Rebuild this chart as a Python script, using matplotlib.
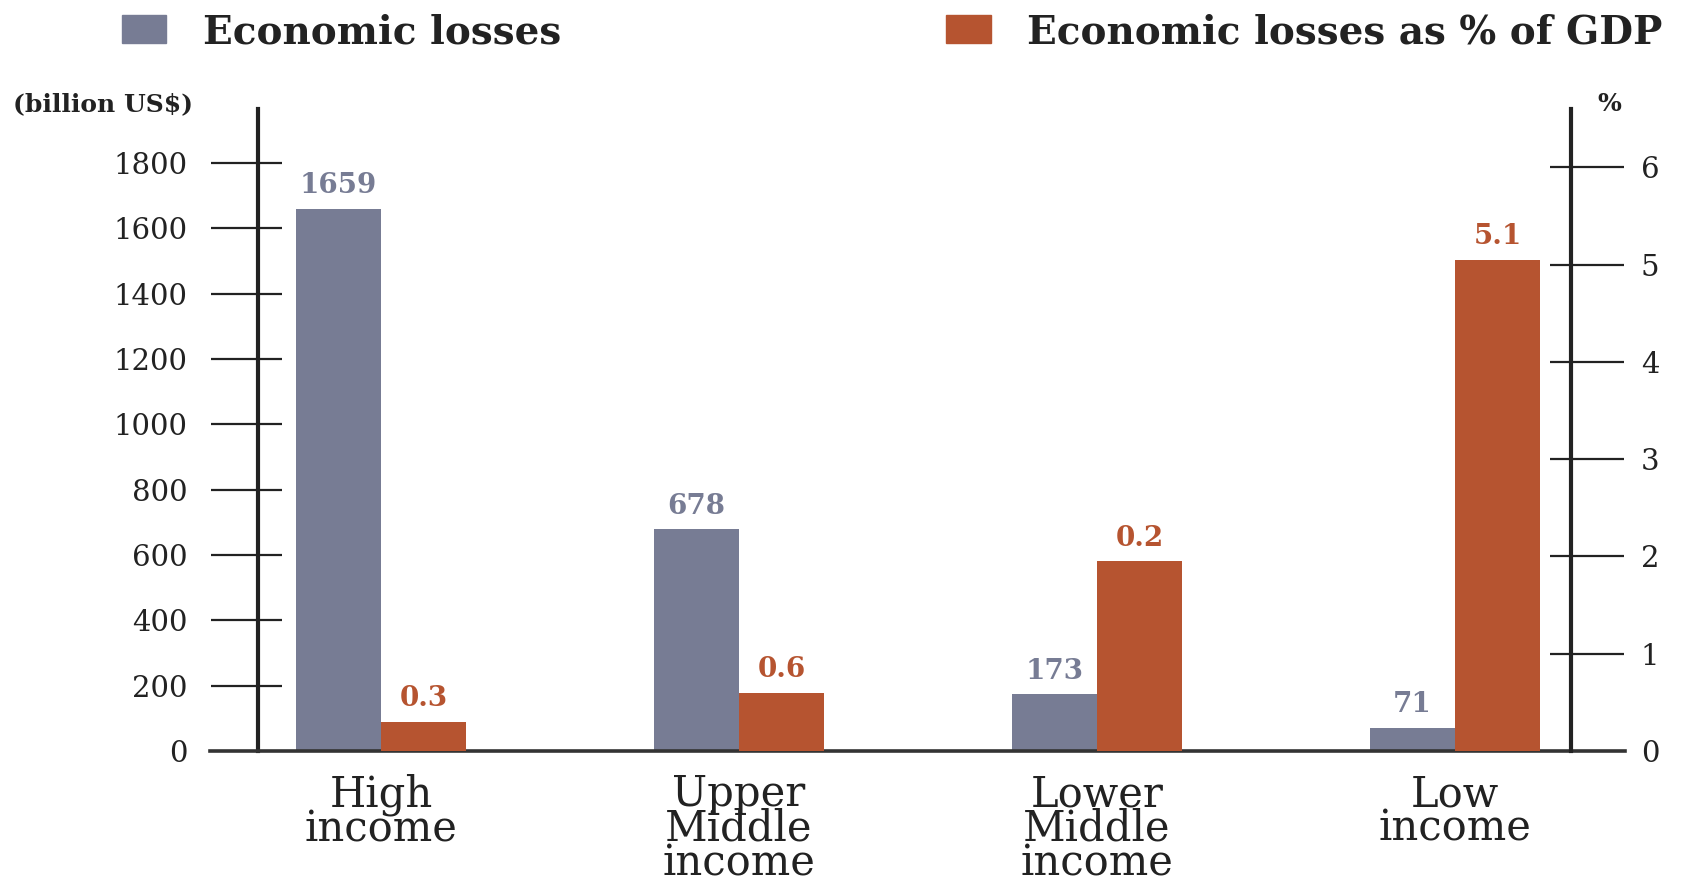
import matplotlib
matplotlib.use("Agg")
import matplotlib.pyplot as plt
from matplotlib.patches import Rectangle

plt.rcParams['font.family'] = ['DejaVu Serif']

# data
categories = ["High\nincome", "Upper\nMiddle\nincome", "Lower\nMiddle\nincome", "Low\nincome"]
losses = [1659, 678, 173, 71]                 # billion US$
losses_labels = ["1659", "678", "173", "71"]
gdp_pct = [0.3, 0.6, 1.95, 5.05]               # bar heights as drawn
gdp_pct_labels = ["0.3", "0.6", "0.2", "5.1"]  # labels as printed
left_ticks = [200, 400, 600, 800, 1000, 1200, 1400, 1600, 1800]
right_ticks = [1, 2, 3, 4, 5, 6]

gray = "#777c94"
orange = "#b65430"
txt = "#222222"

fig = plt.figure(figsize=(17.05, 8.84), dpi=100)
W, H = 1705, 884
ax = fig.add_axes([210 / W, 1 - 751 / H, 1415 / W, (751 - 109) / H])
ax2 = ax.twinx()

x = list(range(len(categories)))
w = 0.237
ax.bar([i - w / 2 for i in x], losses, width=w, color=gray, zorder=2)
ax2.bar([i + w / 2 for i in x], gdp_pct, width=w, color=orange, zorder=2)

for i, (v, lab) in enumerate(zip(losses, losses_labels)):
    ax.annotate(lab, (i - w / 2, v), xytext=(0, 7), textcoords="offset points",
                ha="center", va="bottom", fontsize=20, fontweight="bold", color=gray)
for i, (v, lab) in enumerate(zip(gdp_pct, gdp_pct_labels)):
    ax2.annotate(lab, (i + w / 2, v), xytext=(0, 7), textcoords="offset points",
                 ha="center", va="bottom", fontsize=20, fontweight="bold", color=orange)

ax.set_xlim(-0.478, 3.475)
ax.set_ylim(0, 1965)
ax2.set_ylim(0, 6.6)

for s in ["top", "bottom", "right"]:
    ax.spines[s].set_visible(False)
for s in ["top", "bottom", "left"]:
    ax2.spines[s].set_visible(False)
ax.spines["left"].set_position(("axes", 0.034))
ax.spines["left"].set_linewidth(3)
ax.spines["left"].set_color("#222222")
ax2.spines["right"].set_position(("axes", 0.962))
ax2.spines["right"].set_linewidth(3)
ax2.spines["right"].set_color("#222222")

# tick lines crossing the axes
ax.hlines(left_ticks, 0.0007, 0.051, transform=ax.get_yaxis_transform(),
          color="#222222", lw=1.6, clip_on=False)
ax2.hlines(right_ticks, 0.947, 0.999, transform=ax2.get_yaxis_transform(),
           color="#222222", lw=1.6, clip_on=False)
ax.axhline(0, color="#333333", lw=2.6, clip_on=False, zorder=3)

ax.set_yticks([0] + left_ticks)
ax.tick_params(axis="y", length=0, pad=51, labelsize=21, labelcolor=txt)
ax2.set_yticks([0] + right_ticks)
ax2.tick_params(axis="y", length=0, pad=50, labelsize=21, labelcolor=txt)

ax.set_xticks(x)
ax.set_xticklabels(categories, fontsize=30, color=txt, linespacing=0.78)
ax.tick_params(axis="x", length=0, pad=16)

# unit labels
fig.text(13 / W, 1 - 104 / H, "(billion US$)", fontsize=18, fontweight="bold",
         color=txt, va="center", ha="left")
fig.text(1609 / W, 1 - 104 / H, "%", fontsize=18, fontweight="bold",
         color=txt, va="center", ha="center")

# legend
fig.add_artist(Rectangle((122 / W, 1 - 43 / H), 44 / W, 28 / H, color=gray,
                         transform=fig.transFigure))
fig.text(203 / W, 1 - 33 / H, "Economic losses", fontsize=28, fontweight="bold",
         color=txt, va="center", ha="left")
fig.add_artist(Rectangle((946 / W, 1 - 43 / H), 45 / W, 28 / H, color=orange,
                         transform=fig.transFigure))
fig.text(1027 / W, 1 - 33 / H, "Economic losses as % of GDP", fontsize=28,
         fontweight="bold", color=txt, va="center", ha="left")

fig.savefig("out.png", dpi=100)
